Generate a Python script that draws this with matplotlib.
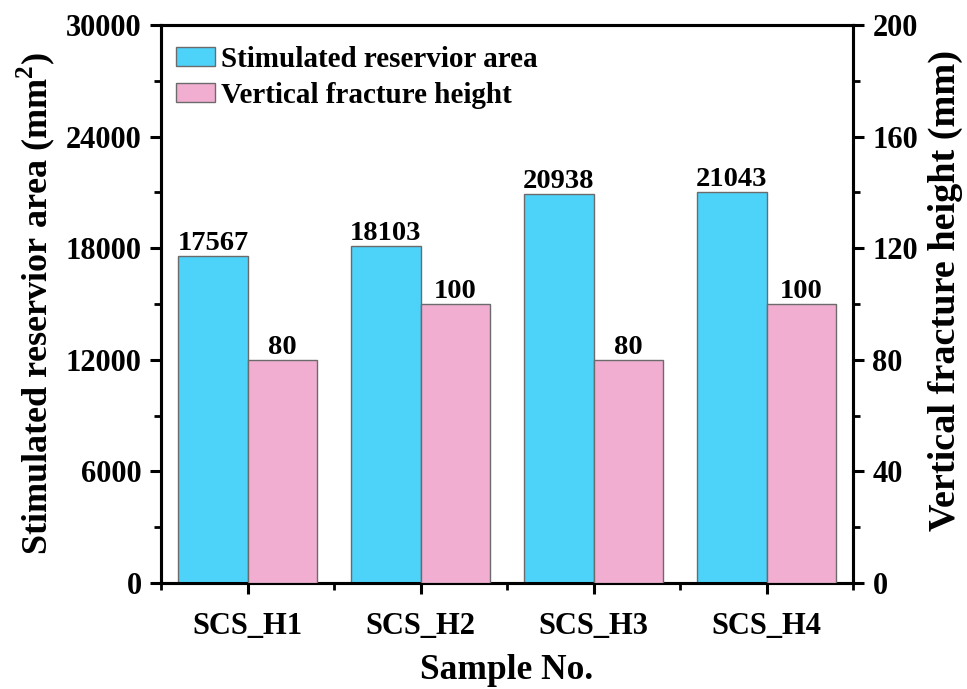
import matplotlib
matplotlib.use("Agg")
import matplotlib.pyplot as plt
import numpy as np
from matplotlib.ticker import MultipleLocator

plt.rcParams['font.family'] = ['Liberation Serif', 'DejaVu Serif']
plt.rcParams['font.weight'] = 'bold'
plt.rcParams['mathtext.fontset'] = 'custom'
plt.rcParams['mathtext.rm'] = 'Liberation Serif:bold'
plt.rcParams['mathtext.bf'] = 'Liberation Serif:bold'

samples = ["SCS_H1", "SCS_H2", "SCS_H3", "SCS_H4"]
area = [17567, 18103, 20938, 21043]
height = [80, 100, 80, 100]

blue = "#4DD2FA"
pink = "#F2AED0"
edge = "#6b6b6b"

fig = plt.figure(figsize=(9.67, 6.89), dpi=100)
ax = fig.add_axes([161/967, 1-583/689, 692/967, 558/689])
ax2 = ax.twinx()

x = np.arange(len(samples))
w = 0.4
b1 = ax.bar(x - w/2, area, width=w, color=blue, edgecolor=edge, linewidth=1.0,
            label="Stimulated reservior area", zorder=3)
b2 = ax2.bar(x + w/2, height, width=w, color=pink, edgecolor=edge, linewidth=1.0,
             label="Vertical fracture height", zorder=3)

for xi, v in zip(x - w/2, area):
    ax.text(xi, v, f"{v}", ha="center", va="bottom", fontsize=20.5, fontweight="bold")
for xi, v in zip(x + w/2, height):
    ax2.text(xi, v, f"{v}", ha="center", va="bottom", fontsize=20.5, fontweight="bold")

ax.set_xlim(-0.5, 3.5)
ax.set_ylim(0, 30000)
ax2.set_ylim(0, 200)
ax.set_xticks(x)
ax.set_xticklabels(samples)
ax.xaxis.set_minor_locator(MultipleLocator(1.0, offset=0.5))
ax.yaxis.set_major_locator(MultipleLocator(6000))
ax.yaxis.set_minor_locator(MultipleLocator(3000))
ax2.yaxis.set_major_locator(MultipleLocator(40))
ax2.yaxis.set_minor_locator(MultipleLocator(20))

for a in (ax, ax2):
    for s in a.spines.values():
        s.set_linewidth(2.2)
    a.tick_params(which="major", length=8, width=2.2, labelsize=22, direction="out")
    a.tick_params(which="minor", length=5, width=2.0, direction="out")
ax.tick_params(axis="x", which="both", top=False, pad=13)
ax.tick_params(axis="y", which="both", right=False, pad=6)
ax2.tick_params(axis="y", pad=6)
for lab in ax.get_xticklabels() + ax.get_yticklabels() + ax2.get_yticklabels():
    lab.set_fontweight("bold")

ax.set_ylabel(r"Stimulated reservior area (mm$^{2}$)", fontsize=26, fontweight="bold", labelpad=6)
ax2.set_ylabel("Vertical fracture height (mm)", fontsize=27.5, fontweight="bold")
ax2.yaxis.set_label_coords(1.108, 0.525)
fig.text(507/967, 1-679/689, "Sample No.", ha="center", va="baseline",
         fontsize=25.5, fontweight="bold")

handles = [b1, b2]
ax.legend(handles, [h.get_label() for h in handles], loc="upper left",
          bbox_to_anchor=(15/692, 1-21/558), frameon=False,
          borderaxespad=0, borderpad=0,
          handlelength=1.35, handleheight=0.6, handletextpad=0.2, labelspacing=0.3,
          prop={"weight": "bold", "size": 21})

fig.savefig("out.png", dpi=100)
